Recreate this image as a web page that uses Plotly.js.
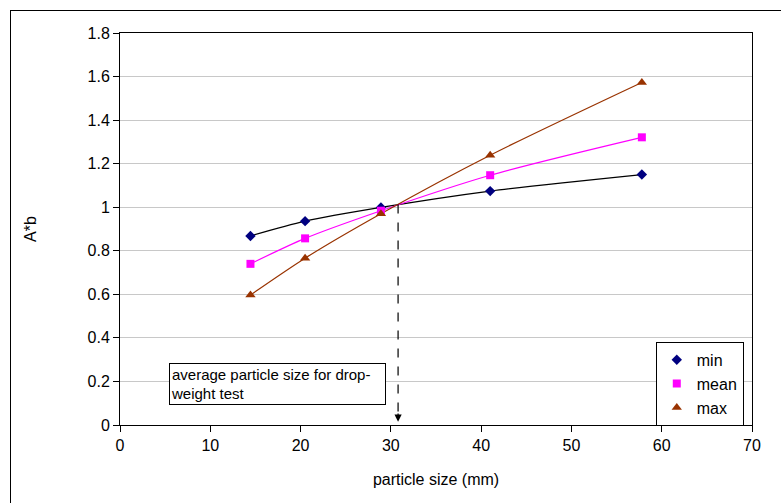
<!DOCTYPE html>
<html>
<head>
<meta charset="utf-8">
<script src="https://cdn.plot.ly/plotly-3.0.1.min.js"></script>
<style>
html,body{margin:0;padding:0;background:#fff;overflow:hidden;}
#frame{position:absolute;left:10px;top:10px;width:800px;height:600px;border:1px solid #000;box-sizing:border-box;}
#chart{position:absolute;left:0;top:0;width:781px;height:503px;}
</style>
</head>
<body>
<div id="frame"></div>
<div id="chart"></div>
<script>
const particleSize = [14.45, 20.5, 28.9, 41.0, 57.8];
const minVals  = [0.868, 0.936, 0.999, 1.074, 1.150];
const meanVals = [0.740, 0.857, 0.984, 1.147, 1.321];
const maxVals  = [0.597, 0.766, 0.970, 1.239, 1.573];
const seriesNames = ['min', 'mean', 'max'];
const avgSize = 30.8;
const avgTop = 1.012;
const xTicks = [0, 10, 20, 30, 40, 50, 60, 70];
const yTicks = [0, 0.2, 0.4, 0.6, 0.8, 1, 1.2, 1.4, 1.6, 1.8];
const yTickText = ['0', '0.2', '0.4', '0.6', '0.8', '1', '1.2', '1.4', '1.6', '1.8'];

const font = 'Liberation Sans, Arial, sans-serif';
const fs = 16;
const series = [
  {name: seriesNames[0], y: minVals,  line: '#000000', marker: '#000080', symbol: 'diamond', size: 8},
  {name: seriesNames[1], y: meanVals, line: '#FF00FF', marker: '#FF00FF', symbol: 'square', size: 8},
  {name: seriesNames[2], y: maxVals,  line: '#993300', marker: '#993300', symbol: 'triangle-up', size: 9}
];
const traces = [];
series.forEach(s => {
  traces.push({x: particleSize, y: s.y, mode: 'lines', type: 'scatter', showlegend: false,
    line: {color: s.line, width: 1.2, shape: 'spline', smoothing: 0.8}, hoverinfo: 'skip'});
});
series.forEach(s => {
  traces.push({x: particleSize, y: s.y, mode: 'markers', type: 'scatter', name: s.name,
    marker: {color: s.marker, symbol: s.symbol, size: s.size}});
});

const layout = {
  width: 781, height: 503,
  margin: {l: 120, r: 29, t: 33, b: 78},
  paper_bgcolor: 'rgba(0,0,0,0)', plot_bgcolor: '#fff',
  font: {family: font, size: fs, color: '#000'},
  showlegend: true,
  legend: {x: 0.987, y: 0.212, xanchor: 'right', yanchor: 'top', bordercolor: '#000', borderwidth: 1,
    bgcolor: '#fff', font: {size: fs}, itemwidth: 30, tracegroupgap: 0},
  xaxis: {range: [0, 70], tickvals: xTicks, ticktext: xTicks.map(String), showline: true, linecolor: '#000', linewidth: 1,
    mirror: true, ticks: 'outside', ticklen: 6, tickcolor: '#000', showgrid: false, zeroline: false,
    tickfont: {size: fs}, title: {text: 'particle size (mm)', font: {size: fs}, standoff: 20}},
  yaxis: {range: [0, 1.8], tickvals: yTicks, ticktext: yTickText, showline: true, linecolor: '#000', linewidth: 1,
    mirror: true, ticks: 'outside', ticklen: 6, tickcolor: '#000', showgrid: true, gridcolor: '#c8c8c8',
    zeroline: false, tickfont: {size: fs}, title: {text: 'A*b', font: {size: fs}, standoff: 46}},
  shapes: [
    {type: 'line', xref: 'x', yref: 'y', x0: avgSize, x1: avgSize, y0: avgTop, y1: 0.04,
      line: {color: '#000', width: 1.2, dash: 'dash'}}
  ],
  annotations: [
    {x: avgSize, y: 0.015, ax: avgSize, ay: 0.06, xref: 'x', yref: 'y', axref: 'x', ayref: 'y',
      text: '', showarrow: true, arrowhead: 2, arrowsize: 1.2, arrowwidth: 1.2, arrowcolor: '#000'},
    {x: 5.4, y: 0.285, xref: 'x', yref: 'y', xanchor: 'left', yanchor: 'top',
      text: 'average particle size for drop-<br>weight test', showarrow: false, align: 'left',
      bordercolor: '#000', borderwidth: 1, bgcolor: '#fff', borderpad: 1,
      width: 213, height: 38, font: {size: 15}}
  ]
};
Plotly.newPlot('chart', traces, layout, {displayModeBar: false, staticPlot: true});
</script>
</body>
</html>
